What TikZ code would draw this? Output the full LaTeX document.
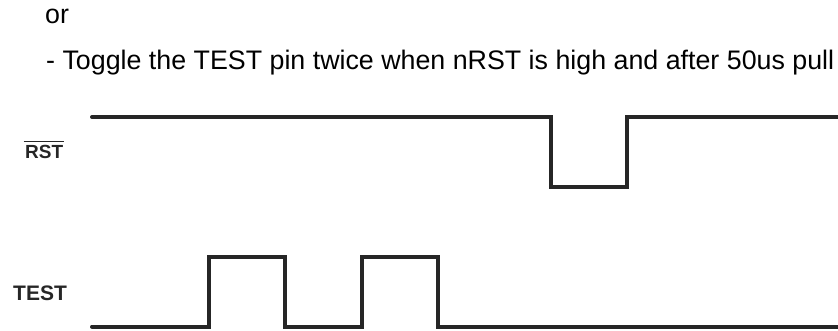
\documentclass[tikz,border=0pt]{standalone}
\usepackage{fontspec}
\setmainfont{Liberation Sans}
\definecolor{wave}{HTML}{262626}
\begin{document}
\begin{tikzpicture}[x=1pt,y=-1pt,
  body/.style={inner sep=0pt,anchor=base west,font=\fontsize{26.8}{32}\selectfont},
  siglabel/.style={inner sep=0pt,anchor=base west,font=\fontsize{19}{22}\selectfont\bfseries,text=black!85},
  wavestyle/.style={draw=wave,line width=4pt,line cap=round,line join=miter}]
\useasboundingbox (0,0) rectangle (838,331);
\node[body] (or) at (45,24) {or};
\node[body] (toggle) at (46,69.5) {- Toggle the TEST pin twice when nRST is high and after 50us pull};
\node[siglabel] (rst) at (25,159) {RST};
\draw[line width=1.3pt,black!85] ([xshift=-1.5pt,yshift=4pt]rst.north west) -- ([xshift=1pt,yshift=4pt]rst.north east);
\node[siglabel,font=\fontsize{21}{24}\selectfont\bfseries] (test) at (13,300) {TEST};
\draw[wavestyle] (92,117) -- (551,117) -- (551,187) -- (627,187) -- (627,117) -- (838,117);
\draw[wavestyle] (92,326.5) -- (209,326.5) -- (209,257) -- (285,257) -- (285,326.5) -- (362,326.5) -- (362,257) -- (438,257) -- (438,326.5) -- (838,326.5);
\end{tikzpicture}
\end{document}
